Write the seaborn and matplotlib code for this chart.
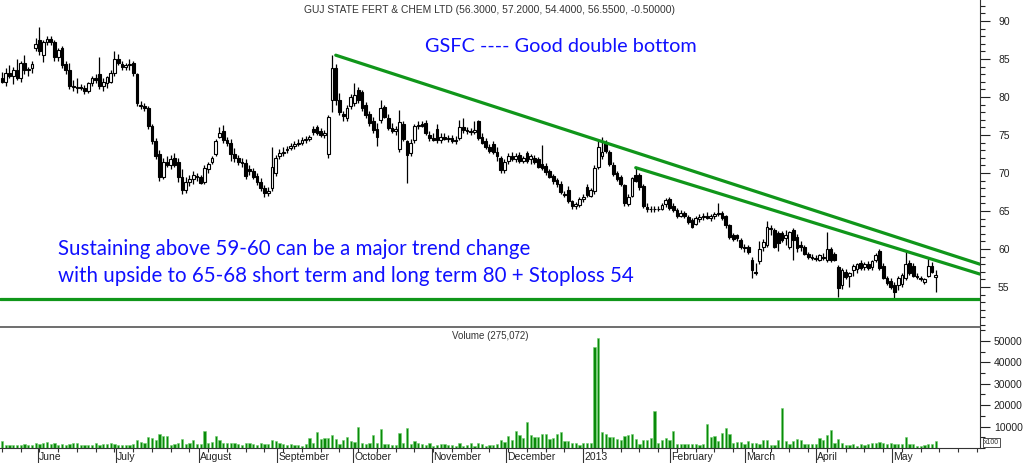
import numpy as np
import pandas as pd
import matplotlib
matplotlib.use("Agg")
import matplotlib.pyplot as plt
from matplotlib.ticker import MultipleLocator, FixedLocator, NullFormatter
import seaborn as sns

# daily candles (mid May 2012 -> mid May 2013), one entry per session
opens = [82.5, 82.0, 83.2, 82.8, 83.6, 82.5, 84.5, 83.5, 83.8, 86.5, 87.5, 85.5, 87.3, 87.6, 87.2, 85.2, 86.4, 84.3, 83.5, 81.5,
         81.3, 81.3, 81.2, 80.8, 81.8, 82.5, 83.0, 81.4, 81.8, 82.0, 83.2, 85.0, 84.4, 84.0, 84.2, 84.5, 83.0, 79.0, 78.8, 78.5,
         76.2, 74.2, 72.5, 69.5, 71.5, 71.0, 72.0, 71.5, 69.5, 67.8, 68.8, 69.2, 69.6, 69.5, 68.8, 70.5, 71.5, 72.5, 74.8, 75.5,
         74.4, 74.0, 72.5, 72.0, 71.5, 71.3, 70.5, 70.3, 69.6, 68.8, 68.0, 67.4, 68.0, 70.0, 72.2, 72.6, 73.0, 73.3, 73.6, 73.8,
         74.0, 74.4, 74.5, 75.8, 76.0, 75.5, 75.0, 72.5, 79.6, 83.8, 79.6, 77.8, 77.2, 78.8, 79.2, 80.9, 80.6, 79.0, 77.7, 76.8,
         75.8, 77.0, 78.7, 77.3, 75.9, 75.5, 73.2, 76.5, 74.2, 72.6, 74.3, 76.2, 76.4, 76.6, 75.0, 74.6, 75.8, 74.4, 74.8, 74.5,
         74.6, 74.2, 74.6, 76.0, 75.6, 75.5, 75.4, 76.8, 74.8, 74.2, 73.4, 73.8, 72.8, 72.0, 70.4, 71.6, 72.2, 71.9, 72.4, 71.6,
         72.6, 71.8, 72.0, 71.8, 71.2, 70.9, 70.2, 69.6, 69.1, 68.6, 67.3, 67.8, 66.3, 65.6, 65.8, 66.6, 68.2, 67.0, 67.6, 70.8,
         72.2, 74.0, 72.8, 71.1, 70.0, 69.5, 68.4, 65.9, 67.0, 69.8, 69.7, 68.3, 65.5, 65.3, 65.2, 65.3, 65.3, 65.9, 66.6, 65.7,
         65.1, 64.4, 64.8, 64.2, 63.8, 63.3, 64.0, 64.2, 64.4, 64.1, 64.3, 64.6, 64.7, 64.3, 63.1, 61.8, 61.8, 61.2, 60.3, 60.2,
         58.6, 57.0, 58.4, 60.3, 60.5, 62.6, 62.5, 62.1, 62.1, 61.4, 60.3, 62.5, 61.6, 60.5, 60.2, 59.3, 58.9, 58.8, 58.6, 59.0,
         58.5, 60.0, 59.3, 57.6, 55.2, 57.0, 56.4, 57.3, 57.4, 58.2, 57.6, 58.0, 57.6, 58.6, 59.7, 57.8, 56.2, 55.8, 55.3, 55.2,
         55.4, 56.2, 58.2, 57.8, 56.5, 56.2, 55.6, 56.5, 57.8, 56.3]
highs = [83.3, 83.8, 84.2, 84.0, 85.0, 84.8, 85.5, 84.0, 84.8, 87.8, 89.2, 87.5, 88.0, 88.0, 87.5, 86.5, 86.7, 84.8, 84.5, 82.2,
         82.5, 81.7, 81.6, 82.0, 82.8, 83.0, 85.2, 82.5, 82.8, 83.5, 86.0, 85.6, 84.8, 84.5, 85.0, 84.7, 83.2, 79.5, 79.2, 78.8,
         76.5, 74.6, 73.0, 72.0, 72.2, 72.4, 72.6, 72.0, 70.5, 69.5, 69.8, 70.3, 70.0, 69.8, 71.0, 71.5, 72.3, 74.5, 76.0, 76.3,
         74.8, 74.5, 73.3, 72.4, 72.0, 71.8, 71.0, 70.6, 70.0, 69.4, 68.4, 68.2, 73.4, 72.4, 73.2, 73.4, 73.6, 74.0, 74.2, 74.5,
         74.7, 74.9, 75.0, 76.2, 76.3, 75.9, 75.6, 77.6, 85.5, 84.4, 80.5, 78.2, 79.0, 80.4, 81.9, 81.3, 80.9, 79.4, 78.2, 77.4,
         76.6, 79.6, 79.0, 77.7, 76.6, 76.2, 78.3, 76.9, 74.4, 74.5, 76.5, 76.8, 76.9, 77.0, 75.5, 75.2, 76.4, 75.2, 75.2, 75.0,
         75.0, 74.9, 77.0, 77.2, 76.0, 75.9, 76.9, 77.0, 75.2, 74.6, 73.8, 74.2, 73.4, 72.3, 71.8, 72.6, 72.7, 72.6, 72.8, 72.3,
         72.9, 72.5, 72.4, 72.1, 73.7, 71.3, 70.5, 69.9, 69.4, 68.9, 67.6, 68.3, 66.5, 66.2, 66.8, 67.2, 68.5, 68.0, 71.0, 74.2,
         74.8, 74.4, 73.0, 71.4, 70.3, 69.8, 68.6, 67.2, 69.5, 70.8, 70.0, 68.5, 66.0, 65.7, 65.6, 65.7, 66.0, 66.7, 66.9, 66.0,
         65.4, 65.1, 65.0, 64.5, 64.1, 64.3, 64.6, 64.8, 64.9, 64.6, 64.9, 66.0, 65.0, 64.5, 63.3, 62.1, 62.0, 61.5, 60.7, 60.5,
         58.9, 58.2, 61.0, 61.3, 63.7, 63.1, 62.8, 62.4, 62.4, 62.5, 62.4, 62.8, 62.0, 61.0, 60.5, 59.6, 59.3, 59.2, 59.4, 59.5,
         62.2, 60.3, 59.6, 57.9, 57.5, 57.4, 57.0, 58.0, 58.2, 58.5, 58.3, 58.4, 58.6, 59.5, 60.0, 58.1, 56.5, 56.2, 55.6, 56.4,
         56.8, 59.7, 58.5, 58.1, 56.8, 56.5, 56.2, 58.8, 58.3, 57.2]
lows = [81.8, 81.5, 82.5, 81.7, 82.2, 82.0, 83.0, 82.8, 83.2, 86.0, 85.5, 84.6, 86.9, 86.8, 84.8, 84.8, 83.8, 83.0, 81.0, 80.8,
        80.5, 80.9, 80.4, 80.5, 81.5, 81.8, 81.0, 80.8, 81.2, 81.8, 82.8, 84.2, 83.5, 83.5, 83.6, 82.8, 78.8, 78.4, 78.2, 75.8,
        73.8, 71.8, 69.0, 69.2, 70.8, 70.5, 70.8, 68.8, 67.2, 67.4, 68.3, 68.6, 69.0, 68.5, 68.5, 70.0, 71.2, 72.2, 74.6, 74.0,
        73.6, 71.6, 71.5, 71.0, 70.8, 69.2, 69.8, 69.2, 68.4, 67.6, 66.8, 67.0, 67.6, 69.6, 71.8, 72.2, 72.6, 73.0, 73.2, 73.5,
        73.7, 74.0, 74.2, 75.0, 75.0, 74.8, 74.6, 72.0, 78.0, 79.0, 77.6, 76.8, 76.8, 78.4, 78.8, 79.2, 78.2, 77.2, 76.2, 75.3,
        73.6, 76.6, 77.2, 75.6, 75.2, 75.0, 72.8, 74.2, 68.7, 72.2, 74.0, 75.8, 76.0, 75.0, 74.2, 74.2, 74.0, 74.0, 74.3, 74.1,
        73.9, 73.8, 74.4, 75.3, 75.1, 75.0, 75.1, 74.3, 73.8, 73.1, 72.6, 72.5, 71.6, 70.0, 70.0, 71.2, 71.6, 71.4, 71.3, 71.3,
        71.3, 71.2, 71.2, 70.6, 70.4, 69.8, 69.3, 68.6, 68.2, 67.2, 66.8, 66.0, 65.2, 65.3, 65.5, 66.2, 66.8, 66.8, 67.2, 70.5,
        71.8, 72.6, 70.9, 69.6, 69.0, 68.3, 65.7, 65.6, 66.8, 68.8, 67.8, 65.4, 64.9, 64.9, 64.9, 65.0, 65.1, 65.5, 65.1, 64.9,
        64.1, 64.2, 64.1, 63.3, 62.7, 63.1, 63.6, 63.8, 63.9, 63.7, 64.0, 64.3, 63.8, 62.8, 61.3, 61.0, 61.0, 60.0, 59.6, 59.4,
        56.2, 56.6, 58.0, 59.7, 60.2, 61.8, 60.1, 59.8, 60.9, 60.5, 60.0, 58.6, 59.6, 59.8, 59.2, 58.7, 58.5, 58.4, 58.4, 58.6,
        58.3, 58.3, 58.4, 53.7, 54.8, 56.0, 55.0, 56.5, 56.9, 57.2, 57.2, 57.3, 57.2, 58.3, 57.3, 56.0, 55.2, 54.8, 53.6, 54.6,
        55.0, 55.9, 56.6, 56.3, 56.0, 55.8, 55.4, 56.3, 56.8, 54.4]
closes = [82.0, 83.2, 82.8, 83.6, 82.5, 84.5, 83.5, 83.5, 84.4, 87.0, 86.0, 87.2, 87.6, 87.2, 85.3, 86.2, 84.2, 83.5, 81.5, 81.3,
          81.2, 81.2, 80.8, 81.8, 82.5, 82.3, 81.4, 82.0, 82.6, 83.2, 85.0, 84.5, 84.0, 84.2, 84.3, 83.2, 79.2, 78.8, 78.6, 76.2,
          74.2, 72.3, 69.5, 71.5, 71.0, 71.8, 71.0, 69.5, 67.8, 68.8, 69.2, 69.8, 69.5, 68.7, 70.7, 71.2, 72.0, 74.2, 75.3, 74.4,
          74.0, 72.5, 72.0, 71.5, 71.3, 69.6, 70.2, 69.5, 68.8, 68.0, 67.4, 67.6, 70.8, 72.0, 72.6, 72.8, 73.2, 73.6, 73.8, 74.0,
          74.3, 74.5, 74.8, 75.4, 75.3, 75.0, 75.2, 77.4, 83.8, 79.6, 78.0, 77.5, 78.6, 80.0, 80.2, 79.6, 78.6, 77.6, 76.6, 75.6,
          74.8, 78.5, 77.4, 75.9, 75.5, 75.8, 76.7, 74.5, 72.4, 74.0, 76.2, 76.3, 76.2, 75.3, 74.6, 74.4, 74.3, 74.8, 74.5, 74.6,
          74.2, 74.4, 76.0, 75.6, 75.5, 75.4, 75.7, 74.6, 74.0, 73.4, 72.9, 72.8, 72.2, 70.4, 71.5, 72.2, 71.9, 72.2, 71.6, 72.0,
          71.6, 72.2, 71.5, 70.8, 70.6, 70.1, 69.5, 68.9, 68.5, 67.5, 67.1, 66.3, 65.6, 65.9, 66.6, 66.9, 67.1, 67.8, 70.6, 73.4,
          72.8, 72.9, 71.2, 69.9, 69.2, 68.5, 66.0, 66.9, 69.3, 69.0, 68.1, 65.6, 65.2, 65.2, 65.3, 65.2, 65.8, 66.4, 65.4, 65.1,
          64.3, 64.8, 64.4, 63.5, 62.9, 64.1, 64.2, 64.4, 64.1, 64.4, 64.6, 64.8, 64.1, 63.1, 61.6, 61.3, 61.5, 60.3, 60.1, 59.6,
          57.2, 56.9, 60.0, 60.9, 62.9, 62.7, 60.3, 60.8, 61.2, 61.8, 62.2, 61.2, 60.1, 60.2, 59.4, 59.0, 58.8, 58.7, 59.2, 58.8,
          60.0, 58.5, 58.6, 54.9, 57.2, 56.3, 56.8, 57.8, 58.0, 57.5, 58.0, 57.5, 58.4, 59.2, 57.5, 56.2, 55.5, 55.0, 54.4, 56.2,
          56.6, 58.0, 56.8, 56.5, 56.3, 56.1, 56.0, 57.8, 57.0, 56.55]
# volume in hundreds of shares
volumes = [3300, 1500, 1300, 1300, 1200, 1300, 1800, 1500, 1200, 2300, 1800,
           2200, 2600, 1800, 2500, 1600, 2000, 1600, 2000, 2200, 2200, 1500, 1400, 1600, 1600, 2400, 1600, 2000, 2000, 2200, 1800,
           1500, 1400, 1500, 1300, 2000, 3900, 3000, 2300, 5100, 4500, 3900, 6500, 5500, 5700, 1600, 1700, 2200, 4400, 2000, 2200,
           3900, 2000,
           2000, 7800, 2300, 3000, 5500, 3800, 2300, 2400, 2200, 2300, 2100, 1600, 2200, 2300, 2000, 1600, 2300, 1900, 2000, 3900,
           3500,
           2300, 1800, 1500, 1700, 1500, 1200, 800, 1800, 4800, 2300, 7500, 4400, 4500, 4500, 6200, 4000, 2000, 3600, 5300, 3300,
           3000,
           10000, 2200, 2000, 2400, 6000, 2500, 8800, 2000, 1700, 1400, 1600, 7200, 2500, 9200, 1700, 3100, 2300, 2000, 1400, 2500,
           800, 1400, 1700, 2000, 1400, 1300, 800, 2500, 800, 1400, 2500, 1100, 2200, 1700, 800, 1400, 1400, 1900, 3900, 2900,
           5800, 3700, 7800, 5900, 4500, 12300, 6100, 5100, 5000, 6500, 6400, 4200, 4500, 6400, 7300, 3100, 3100, 2200, 2200, 1200,
           2500, 2500, 2200, 47000, 51500, 7300, 6400, 5000, 5000, 4200, 3900, 5800, 5900, 6500, 4400, 1700, 3900, 3600, 4700,
           17500, 2500, 3900, 4500, 3900, 7900, 1700, 2000, 2000, 1800, 2000, 1700, 1200, 2000, 11400, 5100, 5400, 3300, 7000,
           9500, 6400, 2500, 2700, 2700, 1700, 3300, 2300, 2300, 2000, 3600, 3900, 1200, 1400, 3600, 18500, 3300, 1700, 3300, 4200,
           3900, 1700, 1700, 1700, 1700, 4700, 3900, 5900, 8400, 2300, 4400, 2300, 1200, 1200, 1700, 1100, 1700, 1200, 1700, 2300,
           2300, 2900, 2300, 1700, 2300, 2000, 2000, 2000, 5100, 1700, 1700, 1100, 800, 1400, 2000, 2000, 3300]

month_labels = ["June", "July", "August", "September", "October", "November", "December",
                "2013", "February", "March", "April", "May"]
month_starts = [10.1, 30.9, 53.1, 73.9, 94.1, 115.2, 134.9, 155.5, 178.7, 198.7, 217.6, 237.9]

# drawn trend lines (session index, price)
upper_line_x = [89, 260.8]
upper_line_y = [85.5, 58.0]
lower_line_x = [169, 260.8]
lower_line_y = [70.7, 56.7]
support_level = 53.4

title = "GUJ STATE FERT & CHEM LTD (56.3000, 57.2000, 54.4000, 56.5500, -0.50000)"
note_top = "GSFC ---- Good double bottom"
note_1 = "Sustaining above 59-60 can be a major trend change"
note_2 = "with upside to 65-68 short term and long term 80 + Stoploss 54"

sns.set_style("white")
plt.rcParams['font.family'] = ['Liberation Sans', 'DejaVu Sans']

df = pd.DataFrame({"open": opens, "high": highs, "low": lows, "close": closes, "volume": volumes})
df["idx"] = np.arange(len(df))
up = df[df.close >= df.open]
down = df[df.close < df.open]

fig = plt.figure(figsize=(10.24, 4.63), dpi=100)
ax = fig.add_axes([0, 1 - 327 / 463, 980 / 1024, 327 / 463])
axv = fig.add_axes([0, 1 - 448 / 463, 980 / 1024, 120 / 463])

xmin, xmax = -2 / 3.75, 978 / 3.75

# candles
ax.vlines(df.idx, df.low, df.high, color="black", lw=0.9, zorder=2)
ax.bar(up.idx, (up.close - up.open).clip(lower=0.12), bottom=up.open, width=0.72,
       color="white", edgecolor="black", linewidth=0.8, zorder=3)
ax.bar(down.idx, (down.open - down.close), bottom=down.close, width=0.72,
       color="black", edgecolor="black", linewidth=0.8, zorder=3)

green = "#10961a"
sns.lineplot(x=upper_line_x, y=upper_line_y, ax=ax, color=green, lw=2.3, zorder=4)
sns.lineplot(x=lower_line_x, y=lower_line_y, ax=ax, color=green, lw=2.3, zorder=4)
ax.axhline(support_level, color=green, lw=2.3, zorder=4)

ax.set_xlim(xmin, xmax)
ax.set_ylim(49.74, 92.76)
ax.yaxis.tick_right()
ax.yaxis.set_major_locator(FixedLocator([55, 60, 65, 70, 75, 80, 85, 90]))
ax.yaxis.set_minor_locator(MultipleLocator(1))
ax.tick_params(axis="y", which="major", length=7, width=0.8, labelsize=7.5, pad=6, colors="#222222", right=True)
ax.tick_params(axis="y", which="minor", length=3.5, width=0.8, right=True, colors="#222222")
ax.set_xticks([])
for s in ["top", "left"]:
    ax.spines[s].set_visible(False)
ax.spines["right"].set_color("#333333")
ax.spines["bottom"].set_color("#555555")
ax.spines["bottom"].set_linewidth(1.2)

ax.text(0.5, 0.985, title, transform=ax.transAxes, ha="center", va="top", fontsize=7.4, color="#333333")
blue = "#1010ff"
ax.text(425 / 980, 1 - 46 / 327, note_top, transform=ax.transAxes, ha="left", va="center",
        fontsize=14.3, color=blue, family=["Lato", "DejaVu Sans"])
ax.text(58 / 980, 1 - 249 / 327, note_1, transform=ax.transAxes, ha="left", va="center",
        fontsize=14.8, color=blue, family=["Lato", "DejaVu Sans"])
ax.text(58 / 980, 1 - 276 / 327, note_2, transform=ax.transAxes, ha="left", va="center",
        fontsize=14.8, color=blue, family=["Lato", "DejaVu Sans"])

# volume
axv.bar(df.idx, df.volume, width=0.6, color="#0a8a0a", edgecolor="#6fcf6f", linewidth=0.4)
axv.set_xlim(xmin, xmax)
axv.set_ylim(0, 56000)
axv.yaxis.tick_right()
axv.yaxis.set_major_locator(FixedLocator([10000, 20000, 30000, 40000, 50000]))
axv.yaxis.set_minor_locator(MultipleLocator(5000))
axv.tick_params(axis="y", which="major", length=7, width=0.8, labelsize=7.5, pad=3, colors="#222222", right=True)
axv.tick_params(axis="y", which="minor", length=3.5, width=0.8, right=True, colors="#222222")
axv.xaxis.set_major_locator(FixedLocator([m - 0.5 for m in month_starts]))
axv.xaxis.set_major_formatter(NullFormatter())
axv.xaxis.set_minor_locator(MultipleLocator(5))
axv.tick_params(axis="x", which="major", length=12, width=0.8, colors="#333333", bottom=True)
axv.tick_params(axis="x", which="minor", length=3, width=0.8, colors="#333333", bottom=True)
for s in ["top", "left"]:
    axv.spines[s].set_visible(False)
axv.spines["right"].set_color("#333333")
axv.spines["bottom"].set_color("#333333")
for lab, m in zip(month_labels, month_starts):
    axv.text(m - 0.2, -0.035, lab, transform=axv.get_xaxis_transform(), ha="left", va="top",
             fontsize=7.5, color="#222222")
axv.text(0.5, 0.93, "Volume (275,072)", transform=axv.transAxes, ha="center", va="center",
         fontsize=7, color="#333333")
axv.text(1.004, 0.02, "x100", transform=axv.transAxes, ha="left", va="bottom", fontsize=5,
         color="#333333", bbox=dict(boxstyle="square,pad=0.15", fc="white", ec="#333333", lw=0.6),
         clip_on=False)

fig.savefig("out.png", dpi=100)
